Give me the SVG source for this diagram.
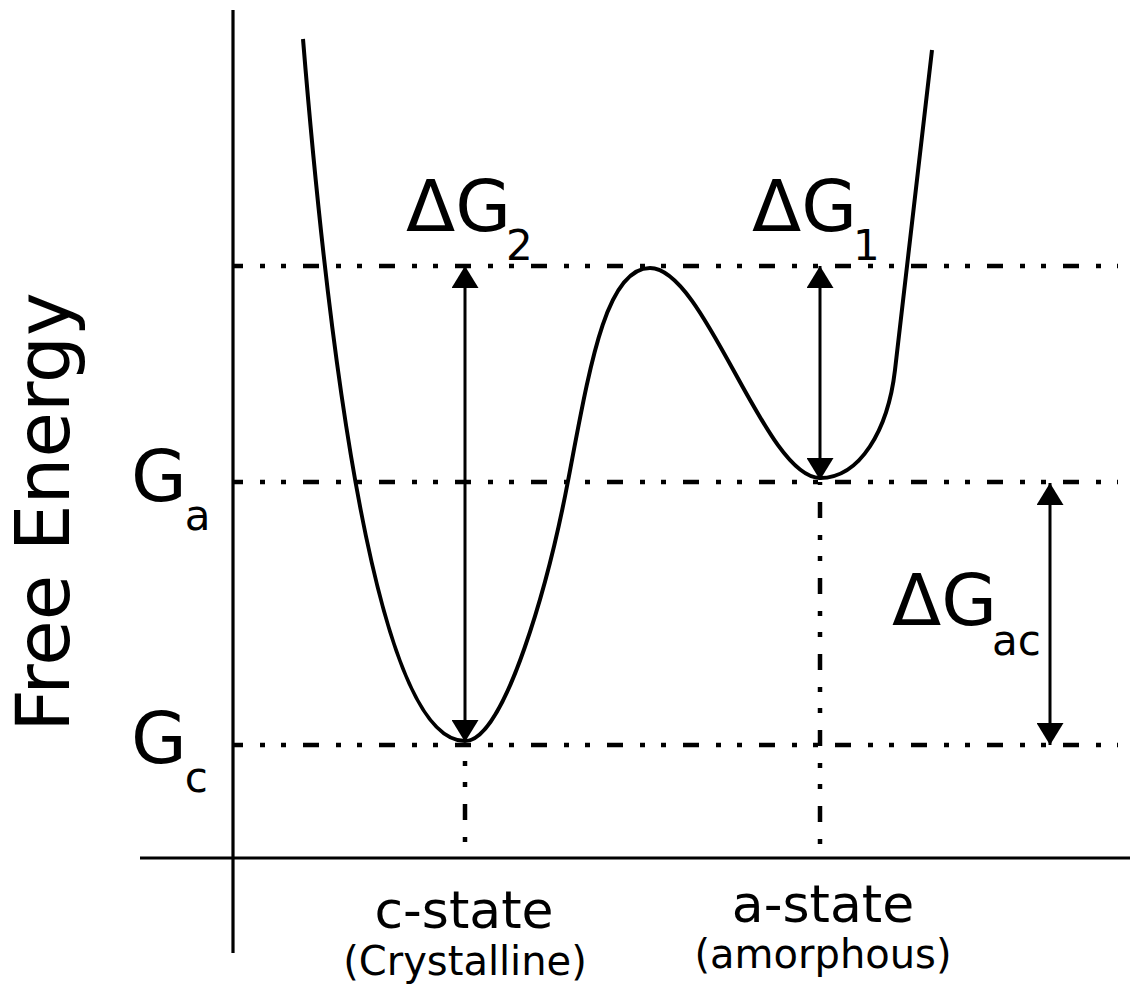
<svg xmlns="http://www.w3.org/2000/svg" width="1130" height="989" viewBox="0 0 1130 989">
<style>
  text { font-family: "DejaVu Sans", "Liberation Sans", sans-serif; fill: #000; }
  .big { font-size: 72px; }
  .sub { font-size: 42px; }
  .state { font-size: 52px; text-anchor: middle; }
  .paren { font-size: 40px; text-anchor: middle; }
  .axis { stroke: #000; stroke-width: 3.2; fill: none; }
  .curve { stroke: #000; stroke-width: 4; fill: none; }
  .ddash { stroke: #000; stroke-width: 4.5; fill: none; stroke-dasharray: 5 16 5 17 16 17; }
  .arrow { stroke: #000; stroke-width: 3; fill: none; marker-start: url(#ah); marker-end: url(#ah); }
</style>
<defs>
  <marker id="ah" viewBox="0 0 22 27" refX="22" refY="13.5" markerWidth="22" markerHeight="27" markerUnits="userSpaceOnUse" orient="auto-start-reverse">
    <path d="M0,0 L22,13.5 L0,27 z" fill="#000"/>
  </marker>
</defs>
<rect width="1130" height="989" fill="#fff"/>

<g id="axes">
  <line class="axis" x1="233" y1="10" x2="233" y2="953"/>
  <line class="axis" x1="140" y1="858" x2="1130" y2="858"/>
</g>

<g id="levels">
  <line class="ddash" x1="233" y1="266" x2="1118" y2="266" stroke-dashoffset="49"/>
  <line class="ddash" x1="233" y1="482" x2="1118" y2="482" stroke-dashoffset="49"/>
  <line class="ddash" x1="233" y1="745" x2="1118" y2="745" stroke-dashoffset="49"/>
  <line class="ddash" x1="465" y1="745" x2="465" y2="858" stroke-dashoffset="60"/>
  <line class="ddash" x1="820" y1="482" x2="820" y2="858" stroke-dashoffset="23"/>
</g>

<g id="energy-curve">
  <path class="curve" d="M303,39 C335,430 385,741 465,741 C505,741 549,581 568,481 C589,371 605,268 650,268 C705,268 765,478 820,478 C860,478 888,430 895,370 L932,50"/>
</g>

<g id="connectors">
  <line class="arrow" x1="465" y1="266" x2="465" y2="742"/>
  <line class="arrow" x1="820" y1="266" x2="820" y2="480"/>
  <line class="arrow" x1="1050" y1="483" x2="1050" y2="745"/>
</g>

<g id="label-dG2">
  <text class="big" x="406" y="231">ΔG<tspan class="sub" dx="-5" dy="29">2</tspan></text>
</g>
<g id="label-dG1">
  <text class="big" x="752" y="231">ΔG<tspan class="sub" dx="-4" dy="29">1</tspan></text>
</g>
<g id="label-dGac">
  <text class="big" x="892" y="625">ΔG<tspan class="sub" dx="-5" dy="30">ac</tspan></text>
</g>
<g id="label-Ga">
  <text class="big" x="131" y="501">G<tspan class="sub" dx="-2" dy="29">a</tspan></text>
</g>
<g id="label-Gc">
  <text class="big" x="131" y="763">G<tspan class="sub" dx="-2" dy="29">c</tspan></text>
</g>
<g id="label-free-energy">
  <text class="big" transform="translate(69,512) rotate(-90)" text-anchor="middle" style="font-size:74px">Free Energy</text>
</g>
<g id="label-c-state">
  <text class="state" x="464" y="928">c-state</text>
  <text class="paren" x="465" y="975">(Crystalline)</text>
</g>
<g id="label-a-state">
  <text class="state" x="823" y="922">a-state</text>
  <text class="paren" x="823" y="968">(amorphous)</text>
</g>
</svg>
